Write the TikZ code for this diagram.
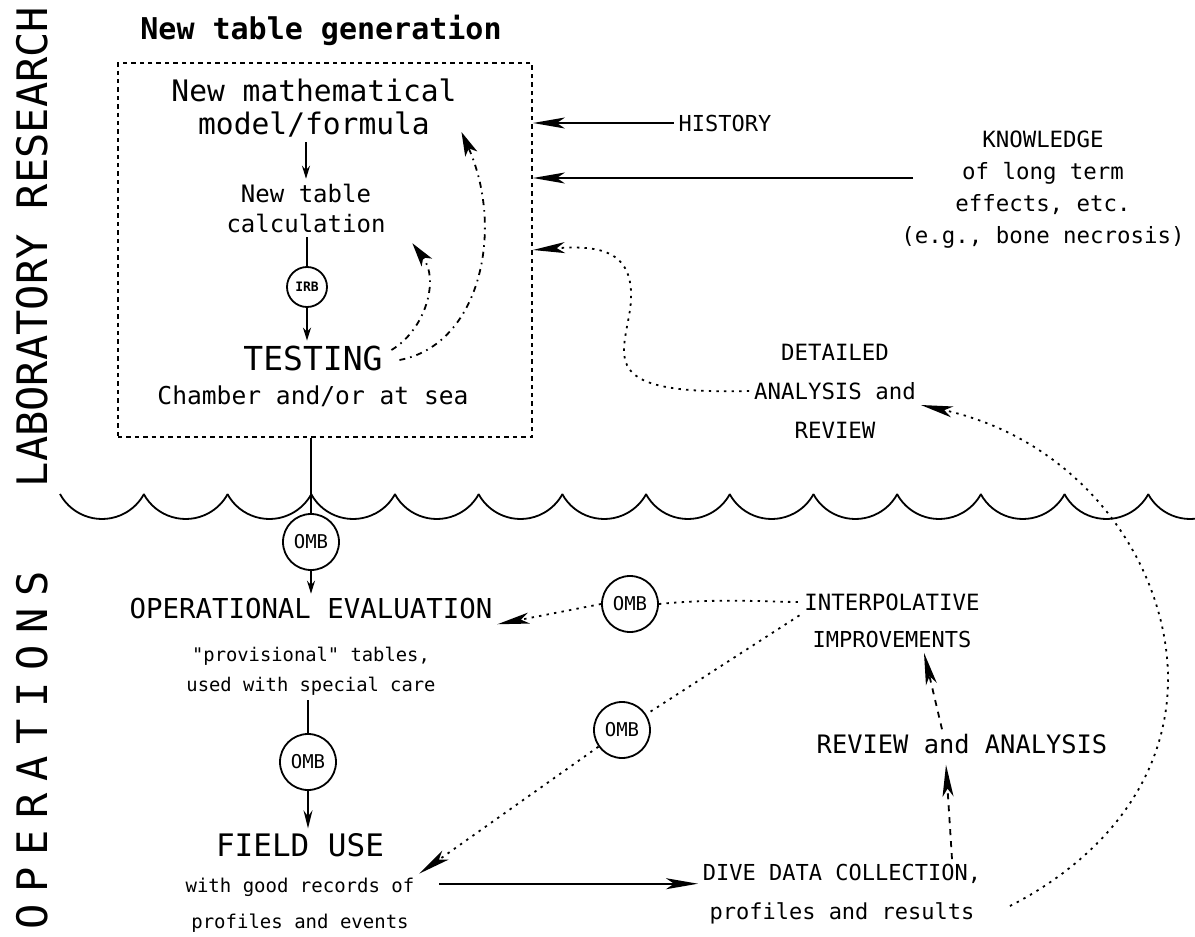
\documentclass[tikz,border=0pt]{standalone}
\usepackage{fontspec}
\usepackage{tikz}
\usetikzlibrary{arrows.meta}
\usetikzlibrary{positioning}
\newfontfamily\plotfont{DejaVu Sans Mono}
\newcommand{\psize}[2]{\fontsize{#1}{#2}\selectfont}

\begin{document}
\begin{tikzpicture}[x=0.5pt,y=-0.5pt,line width=0.9pt,
    >={Stealth[length=16pt,width=5.5pt,inset=4pt]},
    lbl/.style 2 args={align=center,inner sep=2pt,font=\plotfont\psize{#1}{#2}},
    omb/.style={draw,circle,minimum size=28pt,inner sep=0pt,font=\plotfont\psize{9.5}{10}},
    smallarr/.style={-{Stealth[length=6.5pt,width=4pt]}},
    midarr/.style={-{Stealth[length=9pt,width=4.5pt]}},
    looparr/.style={-{Stealth[length=12pt,width=6.5pt,inset=3pt]}},
    boxline/.style={dash pattern=on 2.2pt off 2pt},
    dotline/.style={dash pattern=on 1.2pt off 2.6pt},
    dashdotline/.style={dash pattern=on 3pt off 2.5pt on 0.8pt off 2.5pt},
    dashline/.style={dash pattern=on 3pt off 3pt}]
  \useasboundingbox (0,0) rectangle (1195,937);

  % side labels
  \node[rotate=90,font=\plotfont\psize{21}{21}] (labres) at (32,247) {LABORATORY RESEARCH};
  \node[rotate=90,font=\plotfont\addfontfeatures{LetterSpace=28}\psize{21}{21}] (ops) at (32,750) {OPERATIONS};

  % laboratory part
  \node[font=\plotfont\bfseries\psize{15}{15}] (title) at (321,30) {New table generation};
  \node[draw,boxline,minimum width=207pt,minimum height=187pt] (box) at (325,250) {};
  \node[lbl={14.8}{16.5}] (model) at (314,108) {New mathematical\\model/formula};
  \node[lbl={12}{15}] (calc) at (306,208) {New table\\calculation};
  \node[draw,circle,minimum size=20pt,inner sep=0pt,font=\plotfont\bfseries\psize{6.5}{7}] (irb) at (307,287) {IRB};
  \node[lbl={16.5}{16.5}] (testing) at (313,358) {TESTING};
  \node[lbl={12.3}{12.3}] (chamber) [below=3pt of testing] {Chamber and/or at sea};

  \node[lbl={11}{11}] (history) at (725,123) {HISTORY};
  \node[lbl={11.2}{16}] (knowledge) at (1043,190) {KNOWLEDGE\\of long term\\effects, etc.\\(e.g., bone necrosis)};
  \coordinate (kstart) at (913,178);
  \node[lbl={11.2}{19.5}] (detailed) at (835,391) {DETAILED\\ANALYSIS and\\REVIEW};

  \draw[smallarr] (calc.north |- model.south) -- (calc.north);
  \draw (irb.north |- calc.south) -- (irb.north);
  \draw[smallarr] (irb.south) -- (irb.south |- testing.north);
  \draw[looparr,dashdotline] ([xshift=2pt,yshift=4pt]testing.east) .. controls (425,330) and (440,280) .. ([xshift=11pt,yshift=-3pt]calc.south east);
  \draw[looparr,dashdotline] ([xshift=6pt,yshift=-1pt]testing.east) .. controls (480,345) and (505,230) .. ([yshift=-12pt]model.east);

  \draw[->] (history) -- (history -| box.east);
  \draw[->] (kstart) -- (kstart -| box.east);
  \draw[->,dotline] (detailed.west) .. controls (600,395) and (622,360) .. (630,310) .. controls (638,250) and (600,245) .. (box.east);

  % sea surface
  \foreach \i in {0,...,13}
    \draw ({60+83.7*\i},494) arc[start angle=151.5,end angle=28.5,radius=47.8];

  % operations part
  \node[omb] (omb1) at (311,542) {OMB};
  \node[lbl={13.7}{13.7}] (opev) at (311,609) {OPERATIONAL EVALUATION};
  \node[lbl={9.4}{15}] (provisional) [below=9pt of opev] {"provisional" tables,\\used with special care};
  \node[omb] (omb2) at (308,762) {OMB};
  \node[lbl={15.5}{15.5}] (field) at (300,845) {FIELD USE};
  \node[lbl={9.5}{18}] (records) [below=6pt of field] {with good records of\\profiles and events};

  \node[omb] (omb3) at (630,604) {OMB};
  \node[omb] (omb4) at (622,730) {OMB};
  \node[lbl={11.2}{11.2}] (interp) at (892,602) {INTERPOLATIVE};
  \node[lbl={11}{11}] (improv) [below=5.5pt of interp] {IMPROVEMENTS};
  \node[lbl={12.7}{12.7}] (review) at (962,744) {REVIEW and ANALYSIS};
  \node[lbl={11}{19.5}] (dive) at (842,894) {DIVE DATA COLLECTION,\\profiles and results};

  \draw (omb1.north |- box.south) -- (omb1.north);
  \draw[smallarr] (omb1.south) -- (omb1.south |- opev.north);
  \draw (provisional.south -| omb2.north) -- (omb2.north);
  \draw[midarr] (omb2.south) -- (omb2.south |- field.north);

  \draw[->,dotline] (omb3.west) -- (opev.south east);
  \draw[dotline] (omb3.east) .. controls (720,598) and (770,602) .. (interp.west);
  \draw[dotline] (interp.south west) -- (omb4);
  \draw[->,dotline] (omb4) -- (records.north east);
  \draw[->] ([xshift=10pt,yshift=11pt]records.east) -- ([yshift=11pt]records.east -| dive.west);
  \draw[->,dashline] ([xshift=55pt]dive.north) -- ([xshift=-8pt,yshift=-3pt]review.south);
  \draw[->,dashline] ([xshift=-10pt]review.north) -- ([xshift=16pt]improv.south);
  \draw[->,dotline] ([xshift=12pt,yshift=-6pt]dive.east) .. controls (1100,860) and (1170,780) .. (1168,674) .. controls (1165,560) and (1080,440) .. ([yshift=-7pt]detailed.east);
\end{tikzpicture}
\end{document}
